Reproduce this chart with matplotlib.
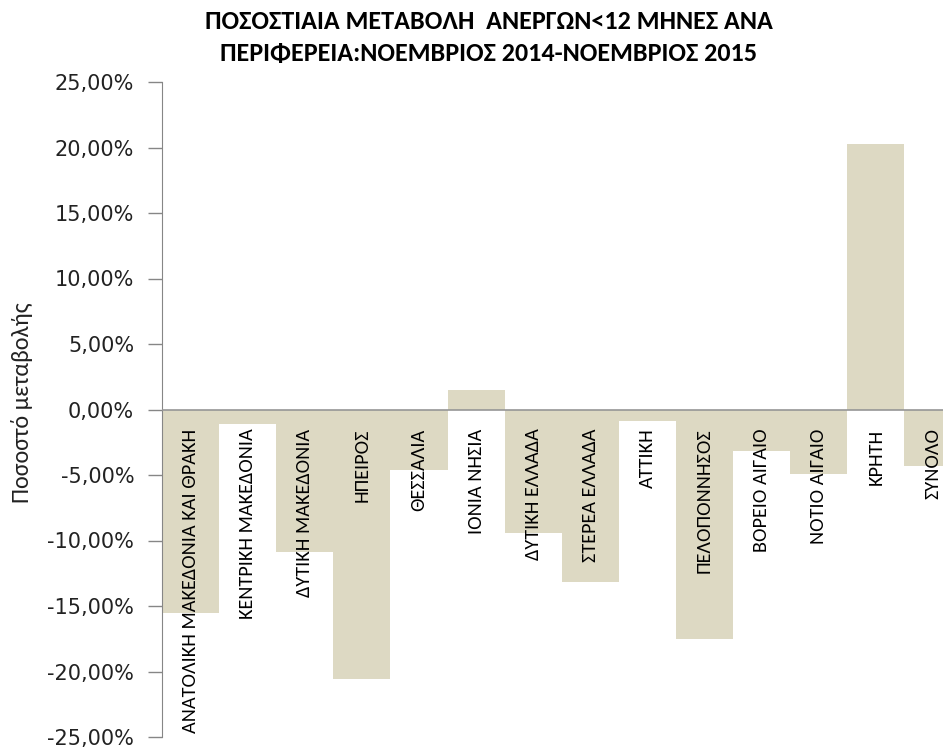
import matplotlib
matplotlib.use("Agg")
import matplotlib.pyplot as plt
from matplotlib.ticker import FuncFormatter, MultipleLocator
from matplotlib import font_manager

categories = ["ΑΝΑΤΟΛΙΚΗ ΜΑΚΕΔΟΝΙΑ ΚΑΙ ΘΡΑΚΗ", "ΚΕΝΤΡΙΚΗ ΜΑΚΕΔΟΝΙΑ", "ΔΥΤΙΚΗ ΜΑΚΕΔΟΝΙΑ",
              "ΗΠΕΙΡΟΣ", "ΘΕΣΣΑΛΙΑ", "ΙΟΝΙΑ ΝΗΣΙΑ", "ΔΥΤΙΚΗ ΕΛΛΑΔΑ", "ΣΤΕΡΕΑ ΕΛΛΑΔΑ",
              "ΑΤΤΙΚΗ", "ΠΕΛΟΠΟΝΝΗΣΟΣ", "ΒΟΡΕΙΟ ΑΙΓΑΙΟ", "ΝΟΤΙΟ ΑΙΓΑΙΟ", "ΚΡΗΤΗ", "ΣΥΝΟΛΟ"]
values = [-15.5, -1.1, -10.9, -20.6, -4.65, 1.5, -9.4, -13.2, -0.9, -17.5, -3.2, -4.95, 20.3, -4.3]
title = "ΠΟΣΟΣΤΙΑΙΑ ΜΕΤΑΒΟΛΗ  ΑΝΕΡΓΩΝ<12 ΜΗΝΕΣ ΑΝΑ\nΠΕΡΙΦΕΡΕΙΑ:ΝΟΕΜΒΡΙΟΣ 2014-ΝΟΕΜΒΡΙΟΣ 2015"
ylabel = "Ποσοστό μεταβολής"

names = {f.name for f in font_manager.fontManager.ttflist}
narrow = "DejaVu Sans"
for cand in ["Carlito", "Liberation Sans Narrow", "Arial Narrow", "Roboto Condensed",
             "Open Sans Condensed", "Lato", "Roboto"]:
    if cand in names:
        narrow = cand
        break

fig = plt.figure(figsize=(9.43, 7.47), dpi=100)
ax = fig.add_axes([162/943, 10/747, (961.5-162)/943, (737-82)/747])

x = list(range(len(categories)))
ax.bar(x, values, width=1.0, color="#DDD9C3", edgecolor="none", zorder=2)
ax.set_xlim(-0.5, len(categories) - 0.5)
ax.set_ylim(-25, 25)
ax.yaxis.set_major_locator(MultipleLocator(5))
ax.yaxis.set_major_formatter(FuncFormatter(lambda v, p: f"{v:.2f}%".replace(".", ",")))
ax.tick_params(axis="y", length=10, width=1, color="#868686", labelsize=15, pad=10,
               labelcolor="#222222")
ax.set_xticks([])
for s in ["top", "right", "bottom"]:
    ax.spines[s].set_visible(False)
ax.spines["left"].set_color("#868686")
ax.axhline(0, color="#969696", lw=1.2, zorder=3)

for xi, cat in zip(x, categories):
    ax.text(xi, -1.45, cat, rotation=90, ha="center", va="top", fontsize=14.6,
            family=[narrow, "DejaVu Sans"], color="black", zorder=4)

fig.text(0.518, 1 - 10/747, title, ha="center", va="top", fontsize=18.8, fontweight="bold",
         family=[narrow, "DejaVu Sans"], linespacing=1.45)
fig.text(22/943, 1 - 403/747, ylabel, rotation=90, ha="center", va="center", fontsize=17.4,
         family=[narrow, "DejaVu Sans"], color="#222222")

fig.savefig("out.png", dpi=100)
